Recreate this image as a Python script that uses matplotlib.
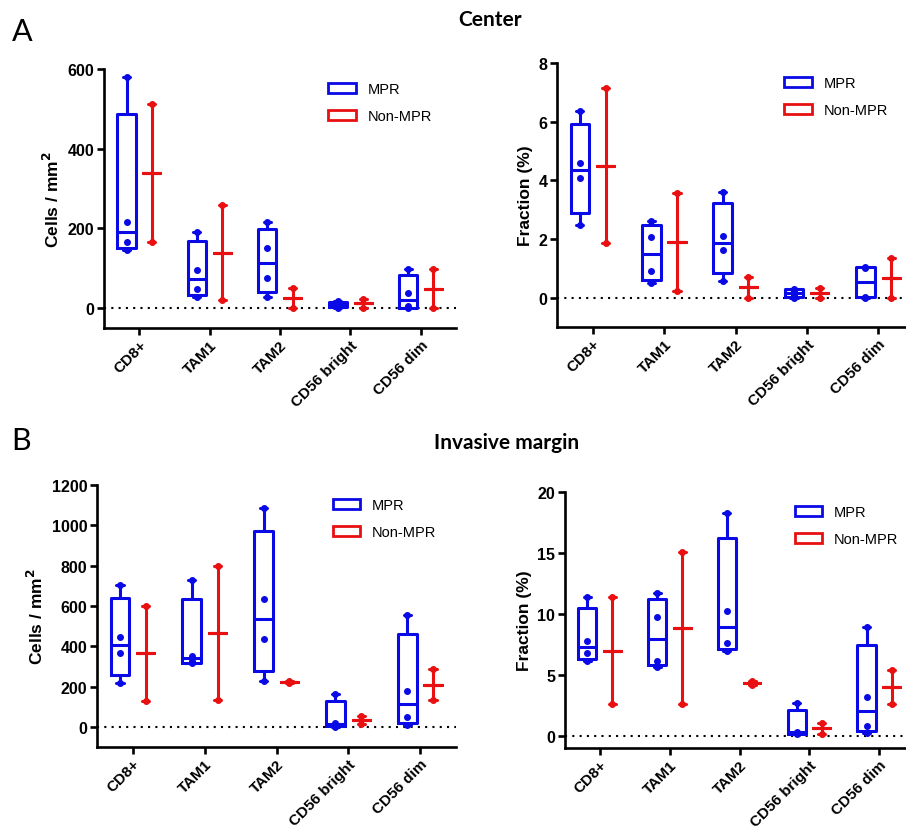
import numpy as np
import matplotlib.pyplot as plt
from matplotlib.patches import Patch

# cell populations on the x axis
categories = ['CD8+', 'TAM1', 'TAM2', 'CD56 bright', 'CD56 dim']

# A - Center, cells / mm2 (one list of patients per population)
center_cells_mpr = [[147, 166, 216, 579], [28, 49, 95, 192], [29, 76, 150, 215],
                    [1, 6, 12, 18], [0, 5, 38, 97]]
center_cells_non = [[166, 513], [20, 258], [0, 51], [0, 23], [0, 97]]

# A - Center, fraction (%)
center_frac_mpr = [[2.47, 4.09, 4.59, 6.35], [0.49, 0.90, 2.06, 2.63], [0.58, 1.63, 2.10, 3.59],
                   [0.0, 0.10, 0.24, 0.31], [0.0, 0.03, 1.02, 1.05]]
center_frac_non = [[1.86, 7.15], [0.22, 3.57], [0.0, 0.70], [0.0, 0.32], [0.0, 1.34]]

# B - Invasive margin, cells / mm2
margin_cells_mpr = [[220, 365, 446, 702], [315, 327, 352, 727], [226, 436, 633, 1084],
                    [0, 8, 18, 165], [8, 50, 180, 554]]
margin_cells_non = [[130, 600], [131, 800], [218, 228], [14, 55], [131, 286]]

# B - Invasive margin, fraction (%)
margin_frac_mpr = [[6.12, 6.80, 7.81, 11.42], [5.66, 6.12, 9.73, 11.75], [6.94, 7.62, 10.22, 18.28],
                   [0.16, 0.22, 0.33, 2.70], [0.27, 0.82, 3.17, 8.91]]
margin_frac_non = [[2.60, 11.37], [2.60, 15.08], [4.15, 4.48], [0.16, 1.04], [2.60, 5.41]]

BLUE = '#0a0ae6'
RED = '#e81010'
plt.rcParams['font.family'] = ['Liberation Sans', 'DejaVu Sans']


def mpr_stats(vals):
    # Prism style quartiles (n+1 method)
    q1, med, q3 = np.percentile(vals, [25, 50, 75], method='weibull')
    return dict(med=med, q1=q1, q3=q3, whislo=min(vals), whishi=max(vals), fliers=[])


def non_stats(vals):
    m = np.mean(vals)
    return dict(med=m, q1=m, q3=m, whislo=min(vals), whishi=max(vals), fliers=[])


def draw_panel(ax, mpr, non, ylim, yticks, ylabel, leg_x):
    x = np.arange(len(categories))
    for data, stats_fn, col, off, w in [(mpr, mpr_stats, BLUE, -0.18, 0.26),
                                        (non, non_stats, RED, 0.18, 0.24)]:
        lp = dict(color=col, lw=2.2, solid_capstyle='round')
        ax.bxp([stats_fn(v) for v in data], positions=x + off, widths=w, capwidths=0.1,
               showfliers=False, manage_ticks=False, boxprops=lp, whiskerprops=lp,
               capprops=lp, medianprops=lp)
        for i, v in enumerate(data):
            ax.plot([x[i] + off] * len(v), v, 'o', color=col, ms=4, zorder=3)

    ax.axhline(0, color='black', lw=1.5, ls=(0, (1, 2.5)), zorder=0)
    ax.set_xlim(-0.5, 4.5)
    ax.set_ylim(*ylim)
    ax.set_yticks(yticks)
    ax.set_xticks(x)
    ax.set_xticklabels(categories, rotation=45, ha='right', rotation_mode='anchor',
                       fontweight='bold', fontsize=11)
    plt.setp(ax.get_yticklabels(), fontweight='bold', fontsize=11.5)
    ax.set_ylabel(ylabel, fontweight='bold', fontsize=12.5)
    for s in ['top', 'right']:
        ax.spines[s].set_visible(False)
    for s in ['left', 'bottom']:
        ax.spines[s].set_linewidth(1.9)
    ax.tick_params(width=1.9, length=5, pad=2)

    handles = [Patch(facecolor='white', edgecolor=BLUE, lw=2, label='MPR'),
               Patch(facecolor='white', edgecolor=RED, lw=2, label='Non-MPR')]
    ax.legend(handles=handles, loc='upper left', bbox_to_anchor=(leg_x, 1.0), frameon=False,
              fontsize=10.5, handlelength=1.9, handleheight=0.6, labelspacing=0.9)


fig = plt.figure(figsize=(9.06, 8.28), dpi=100)
W, H = 906, 828


def axes_px(left, right, top, bottom):
    return fig.add_axes([left / W, 1 - bottom / H, (right - left) / W, (bottom - top) / H])


ax1 = axes_px(104, 456, 70, 329)
ax2 = axes_px(557, 914, 64, 328)
ax3 = axes_px(97, 456, 486, 748)
ax4 = axes_px(565, 914, 493, 749)

draw_panel(ax1, center_cells_mpr, center_cells_non, (-50, 600), [0, 200, 400, 600],
           'Cells / mm$^\\mathbf{2}$', 0.6)
draw_panel(ax2, center_frac_mpr, center_frac_non, (-1, 8), [0, 2, 4, 6, 8],
           'Fraction (%)', 0.6)
draw_panel(ax3, margin_cells_mpr, margin_cells_non, (-100, 1200), list(range(0, 1201, 200)),
           'Cells / mm$^\\mathbf{2}$', 0.62)
draw_panel(ax4, margin_frac_mpr, margin_frac_non, (-1, 20), [0, 5, 10, 15, 20],
           'Fraction (%)', 0.62)

fig.text(490 / W, 1 - 20 / H, 'Center', ha='center', va='center', fontsize=15,
         fontweight='bold', family='Lato')
fig.text(507 / W, 1 - 443 / H, 'Invasive margin', ha='center', va='center', fontsize=15,
         fontweight='bold', family='Lato')
fig.text(22 / W, 1 - 32 / H, 'A', ha='center', va='center', fontsize=22, family='Lato')
fig.text(21 / W, 1 - 441 / H, 'B', ha='center', va='center', fontsize=22, family='Lato')

fig.savefig('out.png', dpi=100)
